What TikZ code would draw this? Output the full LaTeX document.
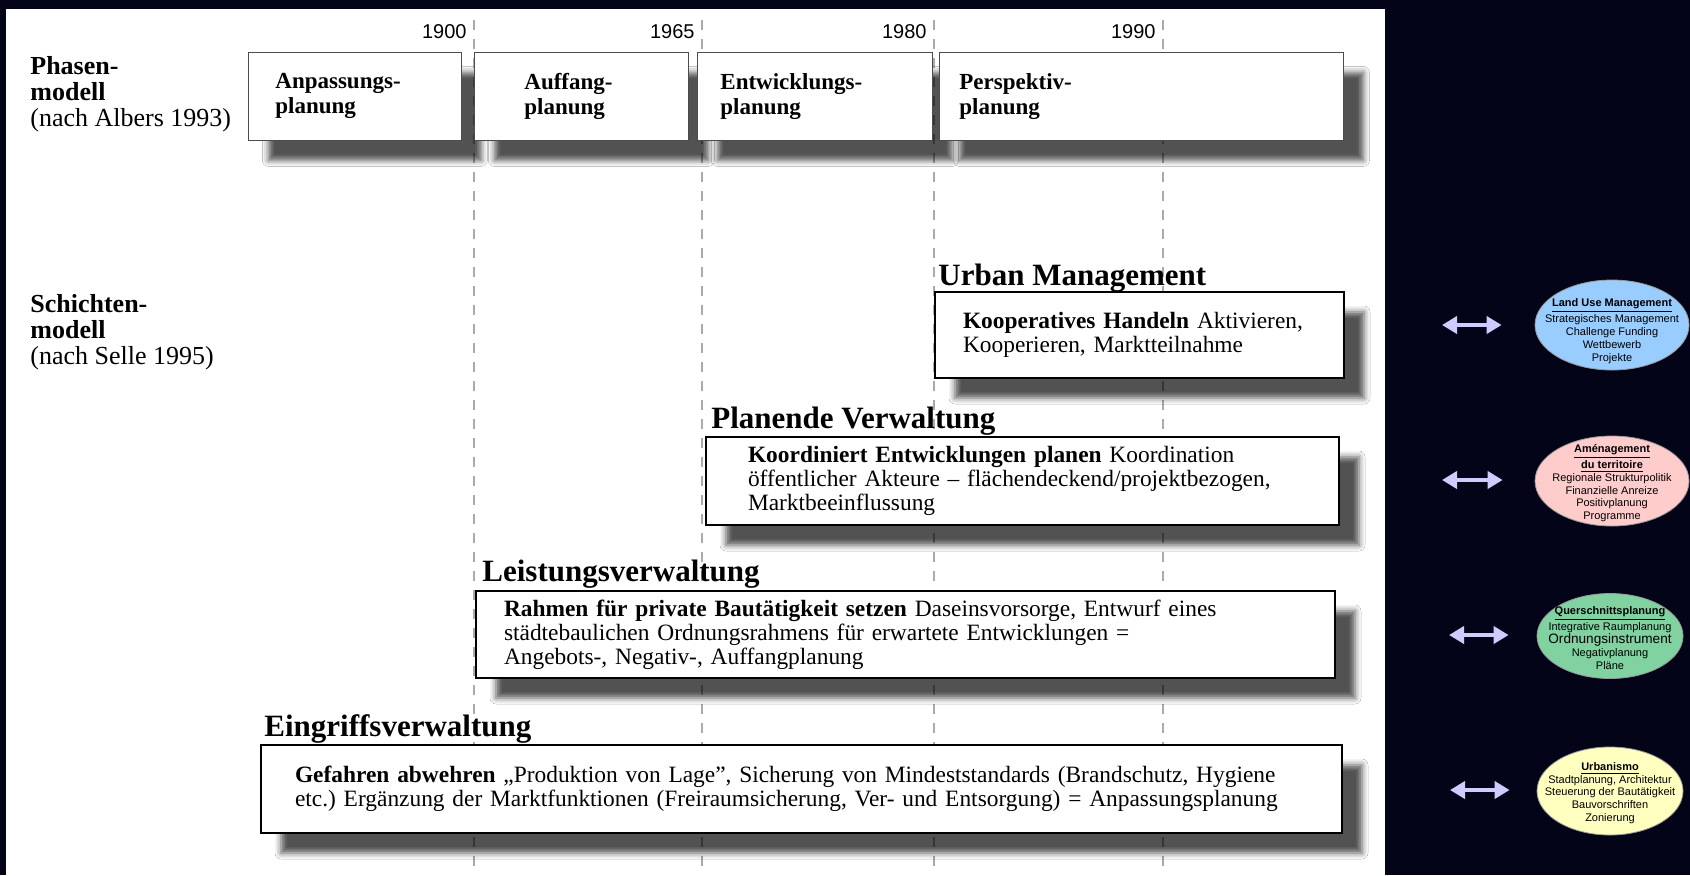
\documentclass[tikz,border=0pt]{standalone}
\usepackage{fontspec}
\setmainfont{Liberation Serif}
\newfontfamily\arialfont{Liberation Sans}
\usetikzlibrary{positioning,shapes.geometric,arrows.meta,shadows.blur}
\frenchspacing

\definecolor{bgnavy}{RGB}{4,4,24}
\definecolor{gridgray}{RGB}{170,170,170}
\definecolor{arrowlilac}{RGB}{204,204,255}
\definecolor{lublue}{RGB}{153,204,255}
\definecolor{amrose}{RGB}{255,204,204}
\definecolor{qsgreen}{RGB}{128,210,160}
\definecolor{urcream}{RGB}{255,255,192}

\begin{document}
\begin{tikzpicture}[x=0.5pt,y=-0.5pt]
        \tikzset{
            phase/.style={draw=black!70, fill=white, anchor=north west, minimum height=44pt, align=left,
                font=\fontsize{11.5}{12.5}\selectfont\bfseries,
                blur shadow={shadow xshift=10pt, shadow yshift=-10pt, shadow opacity=68, shadow blur radius=3pt}},
            layer/.style={phase, draw=black, line width=1pt, font=\fontsize{11.7}{12}\selectfont},
            layerhead/.style={anchor=base west, inner sep=0pt, font=\fontsize{15.5}{16}\selectfont\bfseries},
            model/.style={anchor=west, align=left, inner sep=0pt, font=\fontsize{13}{13}\selectfont},
            year/.style={anchor=east, inner sep=0pt, font=\arialfont\fontsize{10}{10}\selectfont},
            yearline/.style={gridgray, line width=0.8pt, dash pattern=on 5pt off 4.5pt},
            bubble/.style={ellipse, draw=black!40, line width=0.4pt, minimum width=77pt, minimum height=45pt, inner sep=0pt},
            bubbletext/.style={align=center, inner sep=0pt, font=\arialfont\fontsize{5.5}{6.4}\selectfont},
            twoway/.style={arrowlilac, line width=2pt, {Triangle[length=7.5pt,width=8.5pt]}-{Triangle[length=7.5pt,width=8.5pt]}},
        }

        \useasboundingbox (0,0) rectangle (1690,875);
        \fill[bgnavy] (0,0) rectangle (1690,875);
        \fill[white] (6,9) rectangle (1385,875);

        % timeline
        \foreach \xpos/\yr in {474/1900, 702/1965, 934/1980, 1163/1990} {
            \draw[yearline] (\xpos,20) -- (\xpos,875);
            \node[year] (y\yr) at (\xpos-7,32) {\yr};
        }

        \node[model] (phasen) at (30,94) {\textbf{Phasen-}\\\textbf{modell}\\(nach Albers 1993)};
        \node[model] (schichten) at (30,332) {\textbf{Schichten-}\\\textbf{modell}\\(nach Selle 1995)};

        % Phasenmodell
        \node[phase, text width=79.5pt, inner xsep=13.5pt] (anpassung) at (248,52) {Anpassungs-\\planung};
        \node[phase, text width=57pt, inner xsep=25pt] (auffang) at (474,52) {Auffang-\\planung};
        \node[phase, text width=94.5pt, inner xsep=11.5pt] (entwicklung) at (697,52) {Entwicklungs-\\planung};
        \node[phase, text width=182pt, inner xsep=10pt] (perspektiv) at (939,52) {Perspektiv-\\planung};

        % Schichtenmodell
        \node[layerhead] (umhead) at (938,285) {Urban Management};
        \node[layer, text width=176.5pt, inner xsep=14pt, minimum height=43pt] (urban) at (934,291)
            {\textbf{Kooperatives Handeln} Aktivieren,\\Kooperieren, Marktteilnahme};

        \node[layerhead] (pvhead) at (711,428) {Planende Verwaltung};
        \node[layer, text width=274.5pt, inner xsep=21pt] (planende) at (705,436)
            {\textbf{Koordiniert Entwicklungen planen} Koordination\\öffentlicher Akteure -- flächendeckend/projektbezogen,\\Marktbeeinflussung};

        \node[layerhead] (lvhead) at (482,581) {Leistungsverwaltung};
        \node[layer, text width=401.5pt, inner xsep=14pt, minimum height=43.5pt] (leistung) at (475,590)
            {\textbf{Rahmen für private Bautätigkeit setzen} Daseinsvorsorge, Entwurf eines\\städtebaulichen Ordnungsrahmens für erwartete Entwicklungen =\\Angebots-, Negativ-, Auffangplanung};

        \node[layerhead] (evhead) at (264,736) {Eingriffsverwaltung};
        \node[layer, text width=506.5pt, inner xsep=17pt] (eingriff) at (260,744)
            {\textbf{Gefahren abwehren} „Produktion von Lage”, Sicherung von Mindeststandards (Brandschutz, Hygiene\\etc.) Ergänzung der Marktfunktionen (Freiraumsicherung, Ver- und Entsorgung) = Anpassungsplanung};

        % Gegenstuecke
        \node[bubble, fill=lublue] (landuse) at (1612,325) {};
        \node[bubbletext] (landusetext) at (1612,331)
            {\underline{\textbf{Land Use Management}}\\Strategisches Management\\Challenge Funding\\Wettbewerb\\Projekte};
        \node[bubble, fill=amrose] (amenagement) at (1612,481) {};
        \node[bubbletext] (amenagementtext) at (1612,483)
            {\underline{\textbf{Aménagement}}\\\underline{\textbf{du territoire}}\\Regionale Strukturpolitik\\Finanzielle Anreize\\Positivplanung\\Programme};
        \node[bubble, fill=qsgreen, minimum width=73pt, minimum height=42.5pt] (querschnitt) at (1610,636) {};
        \node[bubbletext] (querschnitttext) at (1610,638)
            {\underline{\textbf{Querschnittsplanung}}\\Integrative Raumplanung\\{\fontsize{6.8}{7}\selectfont Ordnungsinstrument}\\Negativplanung\\Pläne};
        \node[bubble, fill=urcream, minimum width=73pt, minimum height=44pt] (urbanismo) at (1610,791) {};
        \node[bubbletext] (urbanismotext) at (1610,793)
            {\underline{\textbf{Urbanismo}}\\Stadtplanung, Architektur\\Steuerung der Bautätigkeit\\Bauvorschriften\\Zonierung};

        \coordinate (luarrow) at (1442,325);
        \coordinate (amarrow) at (1442,480);
        \coordinate (qsarrow) at (1449,635);
        \coordinate (urarrow) at (1450,790);
        \draw[twoway, shorten >=16.5pt] (luarrow) -- (luarrow -| landuse.west);
        \draw[twoway, shorten >=16pt] (amarrow) -- (amarrow -| amenagement.west);
        \draw[twoway, shorten >=14pt] (qsarrow) -- (qsarrow -| querschnitt.west);
        \draw[twoway, shorten >=13.5pt] (urarrow) -- (urarrow -| urbanismo.west);
\end{tikzpicture}
\end{document}
